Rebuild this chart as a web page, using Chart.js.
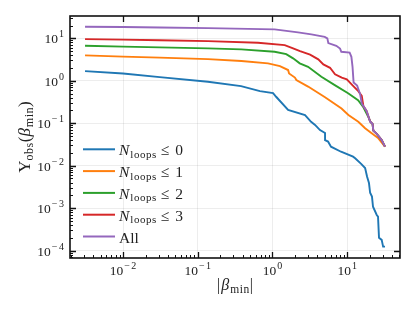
<!DOCTYPE html>
<html>
<head>
<meta charset="utf-8">
<script src="https://cdn.jsdelivr.net/npm/chart.js@4"></script>
<style>
  body { margin: 0; background: #fff; }
</style>
</head>
<body>
<canvas id="chart" width="416" height="311"></canvas>
<script>
// survival curves
const beta0 = [0.0031, 0.01, 0.031, 0.137, 0.38, 0.68, 1.02, 1.12, 1.62, 2.73, 3.29, 3.72, 4.33, 5.06, 5.06, 5.55, 6.08, 8.28, 12.0, 12.8, 15.4, 17.4, 18.5, 19.6, 20.3, 21.5, 22.2, 24.9, 25.9, 26.7, 29.0, 30.3, 32.1];
const ups0 = [1.69, 1.48, 1.22, 0.95, 0.75, 0.57, 0.51, 0.42, 0.205, 0.156, 0.108, 0.091, 0.069, 0.059, 0.040, 0.037, 0.028, 0.0213, 0.0163, 0.0149, 0.011, 0.0088, 0.0055, 0.0039, 0.0023, 0.00187, 0.00108, 0.00069, 0.00063, 0.0002, 0.000179, 0.000124, 0.000124];

const beta1 = [0.0031, 0.01, 0.031, 0.137, 0.384, 0.873, 1.26, 1.62, 1.67, 2.0, 2.09, 3.0, 5.06, 8.41, 10.4, 14.1, 17.4, 21.3, 26.2, 32.1];
const ups1 = [3.96, 3.71, 3.5, 3.24, 2.91, 2.57, 2.22, 1.79, 1.48, 1.19, 1.04, 0.73, 0.41, 0.222, 0.156, 0.108, 0.076, 0.058, 0.044, 0.028];

const beta2 = [0.0031, 0.01, 0.031, 0.137, 0.384, 1.07, 1.53, 1.89, 2.32, 3.0, 4.52, 6.83, 10.3, 14.0, 16.3, 19.1, 20.5, 21.9, 22.4, 24.9, 29.0, 32.1];
const ups2 = [6.66, 6.38, 6.1, 5.78, 5.48, 4.81, 4.25, 3.37, 2.57, 2.13, 1.24, 0.79, 0.51, 0.35, 0.247, 0.144, 0.107, 0.096, 0.067, 0.056, 0.040, 0.028];

const beta3 = [0.0031, 0.01, 0.031, 0.137, 0.641, 1.46, 1.89, 2.34, 3.19, 4.11, 4.8, 5.9, 6.89, 8.47, 9.89, 12.1, 14.1, 15.7, 16.5, 18.2, 20.3, 21.9, 22.4, 24.9, 29.0, 32.1];
const ups3 = [9.57, 9.32, 8.97, 8.59, 7.84, 6.92, 5.78, 5.0, 4.13, 3.19, 2.43, 2.02, 1.42, 1.18, 1.08, 0.75, 0.57, 0.44, 0.254, 0.194, 0.11, 0.096, 0.067, 0.056, 0.040, 0.028];

const beta4 = [0.0031, 0.01, 0.031, 0.137, 1.07, 2.2, 3.32, 5.01, 5.43, 5.6, 7.16, 8.03, 8.36, 10.8, 11.4, 11.8, 12.2, 13.6, 14.9, 15.7, 18.2, 20.3, 21.9, 22.4, 24.9, 29.0, 32.1];
const ups4 = [18.7, 18.4, 17.9, 17.4, 16.2, 13.8, 12.4, 10.8, 9.95, 7.7, 6.66, 5.72, 4.81, 4.61, 3.67, 2.16, 0.91, 0.77, 0.49, 0.291, 0.194, 0.11, 0.096, 0.067, 0.056, 0.040, 0.028];

const seriesLabels = ['N_loops ≤ 0', 'N_loops ≤ 1', 'N_loops ≤ 2', 'N_loops ≤ 3', 'All'];
const colors = ['#1f77b4', '#ff7f0e', '#2ca02c', '#d62728', '#9467bd'];

const xTicks = [0.01, 0.1, 1, 10];
const yTicks = [1e-4, 1e-3, 1e-2, 1e-1, 1, 10];
const xRange = [0.00195, 51];
const yRange = [6.7e-5, 33.5];

const serif = '"Liberation Serif", "DejaVu Serif", serif';
const f = (size, style) => (style ? style + ' ' : '') + size + 'px ' + serif;

const betas = [beta0, beta1, beta2, beta3, beta4];
const upss = [ups0, ups1, ups2, ups3, ups4];

// rich text: list of parts {t, font, dy, ls (letter spacing), gap (space before)}
function partWidth(ctx, p) {
    ctx.font = p.font;
    ctx.letterSpacing = (p.ls || 0) + 'px';
    return ctx.measureText(p.t).width + (p.gap || 0);
}
function drawRich(ctx, parts, x, y, align) {
    let w = 0;
    parts.forEach(p => { w += partWidth(ctx, p); });
    let cx = align === 'right' ? x - w : align === 'center' ? x - w / 2 : x;
    ctx.textBaseline = 'alphabetic';
    ctx.textAlign = 'left';
    parts.forEach(p => {
        const pw = partWidth(ctx, p);
        ctx.fillText(p.t, cx + (p.gap || 0), y + (p.dy || 0));
        cx += pw;
    });
    ctx.letterSpacing = '0px';
}
function powerLabel(v) {
    const e = Math.round(Math.log10(v));
    const parts = [{ t: '10', font: f(13.5) }];
    if (e < 0) parts.push({ t: '\u2212', font: f(10), dy: -6, gap: 1 }, { t: String(-e), font: f(10), dy: -6, gap: 1.5 });
    else parts.push({ t: String(e), font: f(10), dy: -6, gap: 1 });
    return parts;
}
function legendParts(label) {
    const m = label.match(/^N_loops (\S+) (\S+)$/);
    if (!m) return [{ t: label, font: f(15.5) }];
    return [
        { t: 'N', font: f(15.5, 'italic') },
        { t: 'loops', font: f(11), dy: 2.5, ls: 0.5, gap: 1 },
        { t: m[1], font: f(15.5), gap: 4 },
        { t: m[2], font: f(15.5), gap: 6 }
    ];
}
function minorValues(min, max) {
    const out = [];
    for (let d = Math.floor(Math.log10(min)); d <= Math.ceil(Math.log10(max)); d++) {
        for (let k = 2; k <= 9; k++) {
            const v = k * Math.pow(10, d);
            if (v >= min && v <= max) out.push(v);
        }
    }
    return out;
}

const decor = {
    id: 'decor',
    afterDraw(chart) {
        const ctx = chart.ctx;
        const a = chart.chartArea;
        const xs = chart.scales.x, ys = chart.scales.y;
        ctx.save();
        ctx.strokeStyle = '#111';
        ctx.lineWidth = 1;
        // minor ticks, left and bottom
        ctx.beginPath();
        minorValues(xRange[0], xRange[1]).forEach(v => {
            const px = Math.round(xs.getPixelForValue(v)) + 0.5;
            ctx.moveTo(px, a.bottom); ctx.lineTo(px, a.bottom - 3);
        });
        minorValues(yRange[0], yRange[1]).forEach(v => {
            const py = Math.round(ys.getPixelForValue(v)) + 0.5;
            ctx.moveTo(a.left, py); ctx.lineTo(a.left + 3, py);
        });
        ctx.stroke();
        // major ticks, all sides
        ctx.lineWidth = 1.3;
        ctx.beginPath();
        xTicks.forEach(v => {
            const px = Math.round(xs.getPixelForValue(v)) + 0.5;
            ctx.moveTo(px, a.bottom); ctx.lineTo(px, a.bottom - 6);
            ctx.moveTo(px, a.top); ctx.lineTo(px, a.top + 6);
        });
        yTicks.forEach(v => {
            const py = Math.round(ys.getPixelForValue(v)) + 0.5;
            ctx.moveTo(a.left, py); ctx.lineTo(a.left + 6, py);
            ctx.moveTo(a.right, py); ctx.lineTo(a.right - 6, py);
        });
        ctx.stroke();
        // frame
        ctx.lineWidth = 1.6;
        ctx.strokeRect(a.left, a.top, a.right - a.left, a.bottom - a.top);

        // tick labels
        ctx.fillStyle = '#222';
        xTicks.forEach(v => drawRich(ctx, powerLabel(v), xs.getPixelForValue(v), a.bottom + 17, 'center'));
        yTicks.forEach(v => drawRich(ctx, powerLabel(v), a.left - 6, ys.getPixelForValue(v) + 5, 'right'));

        // axis titles
        drawRich(ctx, [
            { t: '|', font: f(16) }, { t: 'β', font: f(16, 'italic'), gap: 1 },
            { t: 'min', font: f(11.5), dy: 2.5, ls: 0.5, gap: 1 }, { t: '|', font: f(16) }
        ], (a.left + a.right) / 2, 290, 'center');
        ctx.save();
        ctx.translate(30, (a.top + a.bottom) / 2);
        ctx.rotate(-Math.PI / 2);
        drawRich(ctx, [
            { t: 'Υ', font: f(17) }, { t: 'obs', font: f(12), dy: 3, ls: 0.5 },
            { t: '(', font: f(17) }, { t: 'β', font: f(17, 'italic') },
            { t: 'min', font: f(12), dy: 3, ls: 0.5, gap: 1 }, { t: ')', font: f(17) }
        ], 0, 0, 'center');
        ctx.restore();

        // legend
        seriesLabels.forEach((lab, i) => {
            const cy = 149.3 + i * 21.8;
            ctx.strokeStyle = colors[i];
            ctx.lineWidth = 2;
            ctx.beginPath();
            ctx.moveTo(83, cy); ctx.lineTo(115, cy);
            ctx.stroke();
            ctx.fillStyle = '#222';
            drawRich(ctx, legendParts(lab), 119, cy + 6, 'left');
        });
        ctx.restore();
    }
};

const datasets = betas.map((b, i) => ({
    label: seriesLabels[i],
    data: b.map((x, j) => ({ x: x, y: upss[i][j] })),
    borderColor: colors[i],
    borderWidth: 1.9,
    pointRadius: 0,
    tension: 0,
    fill: false,
    order: 4 - i
}));

new Chart(document.getElementById('chart').getContext('2d'), {
    type: 'line',
    data: { datasets: datasets },
    options: {
        responsive: false,
        animation: false,
        layout: { padding: { top: 16, right: 16, left: 0, bottom: 0 } },
        plugins: { legend: { display: false }, tooltip: { enabled: false } },
        scales: {
            x: {
                type: 'logarithmic',
                min: xRange[0], max: xRange[1],
                afterBuildTicks: s => { s.ticks = xTicks.map(v => ({ value: v })); },
                afterFit: s => { s.height = 53; },
                ticks: { display: false },
                border: { display: false },
                grid: { color: 'rgba(0,0,0,0.07)', lineWidth: 1, drawTicks: false }
            },
            y: {
                type: 'logarithmic',
                min: yRange[0], max: yRange[1],
                afterBuildTicks: s => { s.ticks = yTicks.map(v => ({ value: v })); },
                afterFit: s => { s.width = 70; },
                ticks: { display: false },
                border: { display: false },
                grid: { color: 'rgba(0,0,0,0.07)', lineWidth: 1, drawTicks: false }
            }
        }
    },
    plugins: [decor]
});
</script>
</body>
</html>
